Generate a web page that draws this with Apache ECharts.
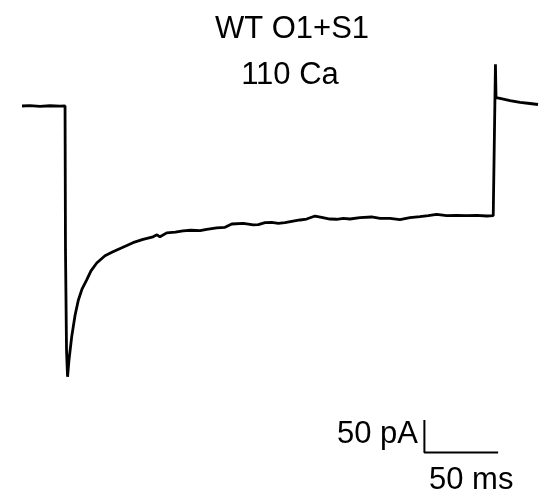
<!DOCTYPE html>
<html>
<head>
<meta charset="utf-8">
<script src="https://cdn.jsdelivr.net/npm/echarts@6/dist/echarts.min.js"></script>
<style>
html,body{margin:0;padding:0;background:#fff;}
#chart{width:550px;height:503px;}
</style>
</head>
<body>
<div id="chart"></div>
<script>
// Trace: time (ms) and current (pA)
const timeMs = [0, 5.4, 12.2, 19.0, 25.8, 29.2, 29.5, 30.2, 30.9, 31.9, 33.7, 36.0, 38.2, 40.7, 43.9, 46.8, 50.7, 56.3, 61.7, 68.5, 75.3, 82.1, 88.9, 91.6, 93.6, 98.2, 104.0, 109.2, 114.5, 120.8, 125.3, 132.1, 137.7, 142.3, 150.1, 156.9, 160.3, 164.9, 169.4, 173.9, 178.4, 183.0, 188.6, 193.1, 198.8, 203.3, 208.9, 213.5, 218.0, 222.5, 229.3, 237.2, 242.9, 249.7, 256.4, 263.2, 270.0, 275.6, 281.3, 288.1, 294.9, 301.7, 308.5, 315.3, 319.7, 320.4, 321.2, 321.6, 324.3, 331.1, 337.9, 344.6, 350.1];
const currentPA = [0, 0.6, -0.5, 0.4, -0.3, 0, -220, -373, -414, -388, -353, -320, -297, -280, -266, -252, -240, -229, -223, -216, -209, -204, -200, -197, -200, -194, -193, -191, -190, -190.7, -188.5, -186.5, -185.5, -180.4, -179.4, -181.9, -181.5, -178.4, -177.8, -179.4, -178.4, -176.3, -174.3, -172.8, -168.2, -170.2, -172.8, -173.2, -171.7, -172.8, -170.8, -169.7, -171.7, -171.7, -173.7, -170.8, -169.3, -167.7, -165.6, -167.7, -167.1, -167.7, -167.1, -168.2, -167.7, -166.7, 63.8, 12.7, 11.5, 8.4, 5.4, 3.8, 2.3];
// Scale bar: 50 pA vertical, 50 ms horizontal
const scaleBarMs = [273, 273, 323];
const scaleBarPA = [-480, -530, -530];
const titleLines = ["WT O1+S1", "110 Ca"];
const scaleLabels = ["50 pA", "50 ms"];

const trace = timeMs.map((t, i) => [t, currentPA[i]]);
const bar = scaleBarMs.map((t, i) => [t, scaleBarPA[i]]);

const chart = echarts.init(document.getElementById('chart'), null, {renderer: 'canvas'});
const font = 'Liberation Sans, Arial, sans-serif';
chart.setOption({
  animation: false,
  backgroundColor: '#fff',
  grid: {left: 22, top: 7.9, width: 515.9, height: 490.5},
  xAxis: {type: 'value', min: 0, max: 350, show: false},
  yAxis: {type: 'value', min: -600, max: 150, show: false},
  title: [
    {text: titleLines[0], left: 287, top: 9, textAlign: 'center',
     textStyle: {fontFamily: font, fontSize: 31, fontWeight: 'normal', color: '#000'}},
    {text: titleLines[1], left: 285, top: 55, textAlign: 'center',
     textStyle: {fontFamily: font, fontSize: 31, fontWeight: 'normal', color: '#000'}}
  ],
  graphic: [
    {type: 'text', right: 550 - 418, top: 419,
     style: {text: scaleLabels[0], font: '31px ' + font, fill: '#000'}},
    {type: 'text', left: 429, top: 465,
     style: {text: scaleLabels[1], font: '31px ' + font, fill: '#000'}}
  ],
  series: [
    {type: 'line', data: trace, showSymbol: false, symbol: 'none',
     lineStyle: {color: '#000', width: 2.8}, silent: true},
    {type: 'line', data: bar, showSymbol: false, symbol: 'none',
     lineStyle: {color: '#000', width: 2}, silent: true}
  ]
});
</script>
</body>
</html>
